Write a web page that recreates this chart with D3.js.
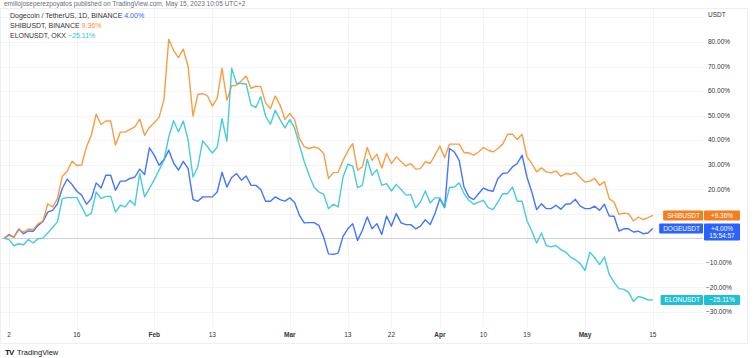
<!DOCTYPE html>
<html><head><meta charset="utf-8">
<script src="https://cdn.jsdelivr.net/npm/d3@7"></script>
<style>body{margin:0;background:#fff}svg{display:block;font-family:"Liberation Sans",Arial,sans-serif}</style>
</head><body><svg id="c" width="756" height="358"></svg>
<script>
// ---- data (percent change from Jan 1, 2023, daily closes) ----
const startDate = "2023-01-01";
const endDate = "2023-05-15";
const shib = [0,1.2,0.5,3.5,2.6,3.8,3.5,6.0,6.9,14.1,
12.8,16.2,25.3,27.3,31.4,29.7,29.9,37.3,42.0,50.6,
46.4,47.8,47.8,38.0,43.3,43.3,44.4,45.4,48.6,42.0,
45.2,47.1,49.3,56.3,81.1,76.5,73.6,77.1,69.9,49.8,
58.6,59.0,58.0,53.9,57.0,69.3,56.3,62.2,62.4,64.2,
66.1,61.1,62.0,61.8,55.2,52.9,58.0,54.3,48.4,50.9,
48.4,40.7,37.3,36.6,37.3,36.6,34.6,24.4,26.8,26.9,
31.8,35.6,38.6,27.8,29.1,37.0,31.8,34.3,28.7,34.6,
30.5,33.2,31.2,29.5,30.5,28.2,28.4,31.2,30.5,33.9,
37.6,32.9,38.4,38.4,38.4,35.0,34.8,33.9,35.2,37.0,
35.9,35.2,36.6,38.4,42.4,42.4,40.3,42.4,33.2,30.5,
27.1,28.7,27.1,26.7,27.5,25.3,26.4,26.1,26.9,24.8,
22.9,23.3,24.4,21.6,23.1,16.2,14.8,9.8,10.3,10.1,
7.1,8.7,7.6,8.4,9.36];
const doge = [0,1.5,0.5,3.8,1.9,3.0,2.9,5.3,6.9,10.7,
11.4,14.1,20.3,24.1,22.0,19.2,17.6,13.9,16.2,22.6,
20.5,25.7,25.7,19.6,23.3,23.3,24.4,25.0,28.2,26.0,
36.9,33.9,29.8,32.0,35.9,30.7,27.8,31.4,28.4,15.9,
15.1,16.9,16.9,16.9,18.9,26.9,20.9,24.8,26.4,23.7,
25.4,21.6,21.6,19.9,15.1,15.1,16.9,15.8,15.2,16.5,
14.6,9.4,6.3,6.4,6.4,5.3,0.5,-6.3,-6.5,-6.0,
0.8,3.9,6.0,-0.8,3.3,8.7,3.9,6.0,1.6,9.1,
5.0,10.1,6.3,5.6,5.6,3.9,5.0,7.6,5.6,10.1,
16.2,12.5,36.6,35.2,31.8,20.9,16.9,15.8,18.2,20.5,
19.6,19.2,24.4,26.4,26.7,29.1,30.5,33.9,25.0,18.9,
11.7,14.1,12.1,12.1,13.5,11.9,13.9,14.1,15.9,13.1,
12.1,12.1,13.1,11.4,13.9,9.1,9.0,3.0,3.9,3.9,
2.6,2.9,1.9,2.2,4.0];
const elon = [0,-0.5,-3.0,-2.2,-2.6,-0.5,-1.9,-0.1,0.1,2.2,
4.4,6.7,16.2,16.6,16.6,16.6,12.8,9.0,10.3,18.9,
16.2,17.1,17.1,10.7,13.5,12.8,15.5,13.5,26.4,16.9,
20.3,23.9,27.8,31.8,41.4,47.9,43.4,47.8,40.0,25.0,
29.1,39.7,37.3,34.8,37.1,48.8,39.6,69.3,63.1,63.1,
62.9,54.3,53.3,57.7,49.8,46.5,52.2,48.4,45.0,48.4,
45.0,38.0,31.2,25.7,20.9,18.9,18.0,12.1,13.9,12.8,
25.0,30.2,29.4,20.7,21.6,32.2,25.7,28.0,21.6,22.3,
19.3,22.0,19.9,17.6,17.8,12.5,14.8,19.3,14.4,16.5,
16.5,12.8,20.7,20.9,22.6,18.2,15.5,13.9,14.8,15.5,
12.5,11.7,14.8,18.2,18.2,20.9,15.1,15.1,7.3,2.9,
-1.9,2.2,-2.9,-3.5,-2.9,-4.6,-5.6,-7.6,-8.7,-10.3,
-13.1,-5.6,-7.9,-10.7,-7.6,-14.7,-17.8,-20.5,-20.8,-21.9,
-25.7,-23.7,-24.2,-25.0,-25.11];

const seriesNames = ["DOGEUSDT","SHIBUSDT","ELONUSDT"];
const legendLabels = ["Dogecoin / TetherUS, 1D, BINANCE","SHIBUSDT, BINANCE","ELONUSDT, OKX"];
const legendValues = ["4.00%","9.36%","\u221225.11%"];
const lastLabels = ["+4.00%","+9.36%","\u221225.11%"];
const countdown = "15:54:57";
const xTickDates = ["2023-01-02","2023-01-16","2023-02-01","2023-02-13","2023-03-01","2023-03-13","2023-03-22","2023-04-01","2023-04-10","2023-04-19","2023-05-01","2023-05-15"];
const xTickLabels = ["2","16","Feb","13","Mar","13","22","Apr","10","19","May","15"];
const yTicks = [80,70,60,50,40,30,20,-10,-20,-30];
const yGrid = [90,80,70,60,50,40,30,20,10,-10,-20,-30];
const headerText = "emiliojoseperezpoyatos published on TradingView.com, May 15, 2023 10:05 UTC+2";

// ---- styles ----
const lineColors = ["#2962FF","#F7902A","#2EC4D8"];
const boxColors = ["#2962FF","#F57F20","#22BFD3"];

const svg = d3.select("#c");
const W = 756, H = 358;
const plot = {left:0, right:703, top:9, bottom:327};
svg.append("rect").attr("width",W).attr("height",H).attr("fill","#fff");

const parse = d3.utcParse("%Y-%m-%d");
const dates = d3.utcDay.range(parse(startDate), d3.utcDay.offset(parse(endDate),1));
const x = d3.scaleUtc().domain([parse(startDate), parse(endDate)]).range([4.2, 652.8]);
const y = d3.scaleLinear().domain([-30, 80]).range([312, 42]);

// header
svg.append("text").attr("x",4).attr("y",6).attr("font-size",6.5).attr("fill","#6a6d78").text(headerText);

// frame
svg.append("rect").attr("x",0.5).attr("y",8.5).attr("width",747).attr("height",335)
  .attr("fill","none").attr("stroke","#eceef2");

// grid
const g = svg.append("g");
g.selectAll(".hg").data(yGrid).join("line")
  .attr("x1",plot.left+1).attr("x2",plot.right)
  .attr("y1",d=>Math.round(y(d))+0.5).attr("y2",d=>Math.round(y(d))+0.5)
  .attr("stroke","#f2f3f6");
g.selectAll(".vg").data(xTickDates).join("line")
  .attr("x1",d=>Math.round(x(parse(d)))+0.5).attr("x2",d=>Math.round(x(parse(d)))+0.5)
  .attr("y1",plot.top).attr("y2",plot.bottom)
  .attr("stroke","#f2f3f6");
// zero baseline
g.append("line").attr("x1",plot.left+1).attr("x2",plot.right)
  .attr("y1",Math.round(y(0))+0.5).attr("y2",Math.round(y(0))+0.5)
  .attr("stroke","#cfd1d8").attr("stroke-width",1);

// lines
const allSeries = [doge, shib, elon];
const line = d3.line().x((d,i)=>x(dates[i])).y(d=>y(d)).curve(d3.curveLinear);
allSeries.forEach((s,k)=>{
  svg.append("path").datum(s).attr("d",line)
    .attr("fill","none").attr("stroke",lineColors[k]).attr("stroke-width",1.4)
    .attr("stroke-linejoin","round").attr("opacity",0.88);
});

// right axis
const ax = svg.append("g");
ax.append("text").attr("x",708).attr("y",17).attr("font-size",6.5).attr("fill","#333").text("USDT");
ax.selectAll(".yl").data(yTicks).join("text")
  .attr("x",d=>d<0?706:708).attr("y",d=>y(d)).attr("dy","0.35em")
  .attr("font-size",6.5).attr("fill","#333")
  .text(d=>(d<0?"\u2212":"")+Math.abs(d).toFixed(2)+"%");

// bottom axis
svg.selectAll(".xl").data(xTickDates).join("text")
  .attr("x",(d,i)=>x(parse(d))).attr("y",335).attr("dy","0.35em")
  .attr("text-anchor","middle").attr("font-size",6.5).attr("fill","#333")
  .attr("font-weight",(d,i)=>isNaN(+xTickLabels[i])?"bold":"normal")
  .text((d,i)=>xTickLabels[i]);

// legend
const lg = svg.append("g");
legendLabels.forEach((t,i)=>{
  const tx = lg.append("text").attr("x",10).attr("y",16+i*9.6).attr("dy","0.35em").attr("font-size",7);
  tx.append("tspan").attr("fill","#333").text(t+"  ");
  tx.append("tspan").attr("fill",lineColors[i]).text(legendValues[i]);
});

// last value labels
const lastVals = allSeries.map(s=>s[s.length-1]);
const order = [1,0,2];
order.forEach(k=>{
  const cy = y(lastVals[k]);
  const grp = svg.append("g");
  const h = 10;
  const isMain = k===0;
  const vh = isMain ? 17 : h;
  grp.append("rect").attr("x",704).attr("y",cy-h/2).attr("width",36).attr("height",vh)
    .attr("rx",1).attr("fill",boxColors[k]);
  grp.append("text").attr("x",722).attr("y",cy).attr("dy","0.35em").attr("text-anchor","middle")
    .attr("font-size",6.5).attr("fill","#fff").text(lastLabels[k]);
  if(isMain){
    grp.append("text").attr("x",722).attr("y",cy+7.5).attr("dy","0.35em").attr("text-anchor","middle")
      .attr("font-size",6.5).attr("fill","#fff").text(countdown);
  }
  const nt = grp.append("text").attr("x",700).attr("y",cy).attr("dy","0.35em").attr("text-anchor","end")
    .attr("font-size",6.5).attr("fill","#fff").text(seriesNames[k]);
  const bw = nt.node().getComputedTextLength()+7;
  grp.insert("rect","text:last-of-type").attr("x",703-bw).attr("y",cy-h/2).attr("width",bw).attr("height",h)
    .attr("rx",1).attr("fill",boxColors[k]);
  nt.raise();
});

// TradingView logo
const lo = svg.append("g");
lo.append("text").attr("x",5).attr("y",352).attr("dy","0.35em").attr("font-size",8).attr("font-weight","900")
  .attr("fill","#131722").attr("letter-spacing","-0.8").text("TV");
lo.append("text").attr("x",17).attr("y",352).attr("dy","0.35em").attr("font-size",7.5)
  .attr("fill","#131722").text("TradingView");
</script></body></html>
